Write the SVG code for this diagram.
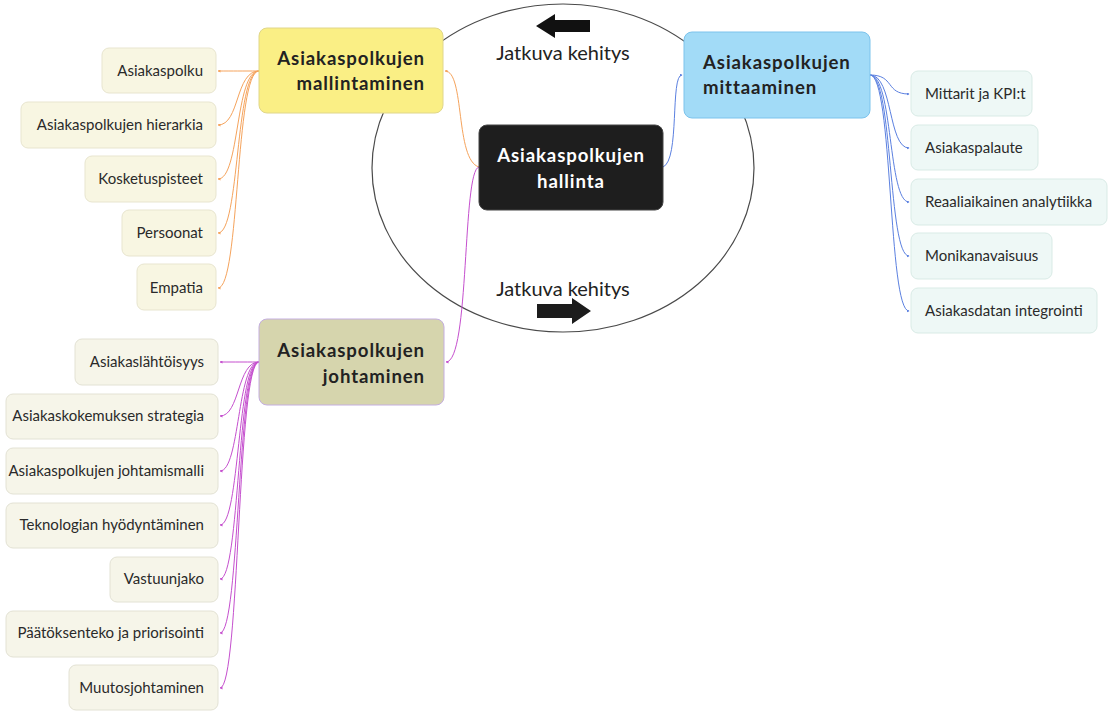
<svg xmlns="http://www.w3.org/2000/svg" width="1108" height="711" viewBox="0 0 1108 711">
<defs>
<style>
.main{font-family:Lato,"Liberation Sans",sans-serif;font-weight:bold;font-size:18.6px;letter-spacing:0.9px;fill:#222}
.sub{font-family:Lato,"Liberation Sans",sans-serif;font-size:15px;fill:#2a2a2a}
.lbl{font-family:Lato,"Liberation Sans",sans-serif;font-size:20px;fill:#222}
.cy{fill:none;stroke:#f5a35c;stroke-width:1}
.cm{fill:none;stroke:#c54fce;stroke-width:1}
.cb{fill:none;stroke:#5b80e0;stroke-width:1}
.ky{fill:#f8f6e2;stroke:#e8e5cf;stroke-width:1}
.km{fill:#f6f5e9;stroke:#e3e2d4;stroke-width:1}
.kb{fill:#eef8f6;stroke:#d9ebe6;stroke-width:1}
</style>
<marker id="ay" viewBox="0 0 6 6" refX="5" refY="3" markerWidth="3" markerHeight="3" orient="auto"><path d="M0,0L6,3L0,6z" fill="#f5a35c"/></marker>
<marker id="am" viewBox="0 0 6 6" refX="5" refY="3" markerWidth="3" markerHeight="3" orient="auto"><path d="M0,0L6,3L0,6z" fill="#c54fce"/></marker>
<marker id="ab" viewBox="0 0 6 6" refX="5" refY="3" markerWidth="3" markerHeight="3" orient="auto"><path d="M0,0L6,3L0,6z" fill="#5b80e0"/></marker>
</defs>
<rect width="1108" height="711" fill="#ffffff"/>

<g id="cycle">
<ellipse cx="563" cy="168" rx="191" ry="164" fill="none" stroke="#4a4a4a" stroke-width="1.2"/>
<path d="M536,26 L555,14 L555,20 L590,20 L590,32 L555,32 L555,38 Z" fill="#111"/>
<text class="lbl" x="563" y="60" text-anchor="middle">Jatkuva kehitys</text>
<text class="lbl" x="563" y="296" text-anchor="middle">Jatkuva kehitys</text>
<path d="M591,311 L572,298 L572,304 L537,304 L537,318 L572,318 L572,324 Z" fill="#1c1c1c"/>
</g>

<g id="connectors">
<path class="cy" d="M479,167 C455,160 465,71 445,71" marker-end="url(#ay)"/>
<path class="cm" d="M479,167 C462,170 470,362 446,362" marker-end="url(#am)"/>
<path class="cb" d="M663,167 C680,160 670,75 682,75" marker-end="url(#ab)"/>

<path class="cy" d="M259,71 C240,71 235,71 218,71" marker-end="url(#ay)"/>
<path class="cy" d="M259,71 C235,71 240,125 218,125" marker-end="url(#ay)"/>
<path class="cy" d="M259,71 C235,71 240,179 218,179" marker-end="url(#ay)"/>
<path class="cy" d="M259,71 C235,71 240,233 218,233" marker-end="url(#ay)"/>
<path class="cy" d="M259,71 C235,71 240,288 218,288" marker-end="url(#ay)"/>

<path class="cm" d="M259,362 C240,362 238,362 220,362" marker-end="url(#am)"/>
<path class="cm" d="M259,362 C237,362 240,416 220,416" marker-end="url(#am)"/>
<path class="cm" d="M259,362 C237,362 240,471 220,471" marker-end="url(#am)"/>
<path class="cm" d="M259,362 C237,362 240,525 220,525" marker-end="url(#am)"/>
<path class="cm" d="M259,362 C237,362 240,579 220,579" marker-end="url(#am)"/>
<path class="cm" d="M259,362 C237,362 240,633 220,633" marker-end="url(#am)"/>
<path class="cm" d="M259,362 C237,362 240,688 220,688" marker-end="url(#am)"/>

<path class="cb" d="M870,75 C895,75 885,94 909,94" marker-end="url(#ab)"/>
<path class="cb" d="M870,75 C893,75 888,148 909,148" marker-end="url(#ab)"/>
<path class="cb" d="M870,75 C893,75 888,202 909,202" marker-end="url(#ab)"/>
<path class="cb" d="M870,75 C893,75 888,256 909,256" marker-end="url(#ab)"/>
<path class="cb" d="M870,75 C893,75 888,311 909,311" marker-end="url(#ab)"/>
</g>

<g id="center">
<rect x="479" y="125" width="184" height="85" rx="8" fill="#1e1e1e" stroke="#444" stroke-width="1"/>
<text class="main" x="571" y="162" text-anchor="middle" style="fill:#ffffff">Asiakaspolkujen</text>
<text class="main" x="571" y="188" text-anchor="middle" style="fill:#ffffff">hallinta</text>
</g>

<g id="mallintaminen">
<rect x="259" y="28" width="184" height="85" rx="8" fill="#faef85" stroke="#e0d68a" stroke-width="1"/>
<text class="main" x="425" y="65" text-anchor="end">Asiakaspolkujen</text>
<text class="main" x="425" y="90" text-anchor="end">mallintaminen</text>
</g>

<g id="mittaaminen">
<rect x="684" y="32" width="186" height="86" rx="8" fill="#a2dbf7" stroke="#7cc3ec" stroke-width="1"/>
<text class="main" x="703" y="69">Asiakaspolkujen</text>
<text class="main" x="703" y="94">mittaaminen</text>
</g>

<g id="johtaminen">
<rect x="259" y="319" width="185" height="86" rx="8" fill="#d6d5ad" stroke="#c4aee0" stroke-width="1"/>
<text class="main" x="425" y="357" text-anchor="end">Asiakaspolkujen</text>
<text class="main" x="425" y="383" text-anchor="end">johtaminen</text>
</g>

<g id="y1"><rect class="ky" x="102" y="48" width="114" height="45" rx="7"/><text class="sub" x="203" y="76" text-anchor="end">Asiakaspolku</text></g>
<g id="y2"><rect class="ky" x="21" y="102" width="195" height="46" rx="7"/><text class="sub" x="203" y="130" text-anchor="end">Asiakaspolkujen hierarkia</text></g>
<g id="y3"><rect class="ky" x="85" y="156" width="131" height="46" rx="7"/><text class="sub" x="203" y="184" text-anchor="end">Kosketuspisteet</text></g>
<g id="y4"><rect class="ky" x="122" y="210" width="94" height="46" rx="7"/><text class="sub" x="203" y="238" text-anchor="end">Persoonat</text></g>
<g id="y5"><rect class="ky" x="137" y="264" width="79" height="46" rx="7"/><text class="sub" x="203" y="293" text-anchor="end">Empatia</text></g>

<g id="m1"><rect class="km" x="75" y="339" width="143" height="46" rx="7"/><text class="sub" x="204" y="367" text-anchor="end">Asiakaslähtöisyys</text></g>
<g id="m2"><rect class="km" x="6" y="394" width="212" height="45" rx="7"/><text class="sub" x="204" y="421" text-anchor="end">Asiakaskokemuksen strategia</text></g>
<g id="m3"><rect class="km" x="6" y="448" width="212" height="46" rx="7"/><text class="sub" x="204" y="476" text-anchor="end">Asiakaspolkujen johtamismalli</text></g>
<g id="m4"><rect class="km" x="6" y="503" width="212" height="45" rx="7"/><text class="sub" x="204" y="530" text-anchor="end">Teknologian hyödyntäminen</text></g>
<g id="m5"><rect class="km" x="110" y="557" width="108" height="45" rx="7"/><text class="sub" x="204" y="584" text-anchor="end">Vastuunjako</text></g>
<g id="m6"><rect class="km" x="6" y="611" width="212" height="46" rx="7"/><text class="sub" x="204" y="638" text-anchor="end">Päätöksenteko ja priorisointi</text></g>
<g id="m7"><rect class="km" x="69" y="665" width="149" height="45" rx="7"/><text class="sub" x="204" y="693" text-anchor="end">Muutosjohtaminen</text></g>

<g id="b1"><rect class="kb" x="911" y="71" width="121" height="45" rx="7"/><text class="sub" x="925" y="99">Mittarit ja KPI:t</text></g>
<g id="b2"><rect class="kb" x="911" y="125" width="127" height="45" rx="7"/><text class="sub" x="925" y="153">Asiakaspalaute</text></g>
<g id="b3"><rect class="kb" x="911" y="179" width="196" height="46" rx="7"/><text class="sub" x="925" y="207">Reaaliaikainen analytiikka</text></g>
<g id="b4"><rect class="kb" x="911" y="233" width="141" height="46" rx="7"/><text class="sub" x="925" y="261">Monikanavaisuus</text></g>
<g id="b5"><rect class="kb" x="911" y="288" width="186" height="45" rx="7"/><text class="sub" x="925" y="316">Asiakasdatan integrointi</text></g>
</svg>
